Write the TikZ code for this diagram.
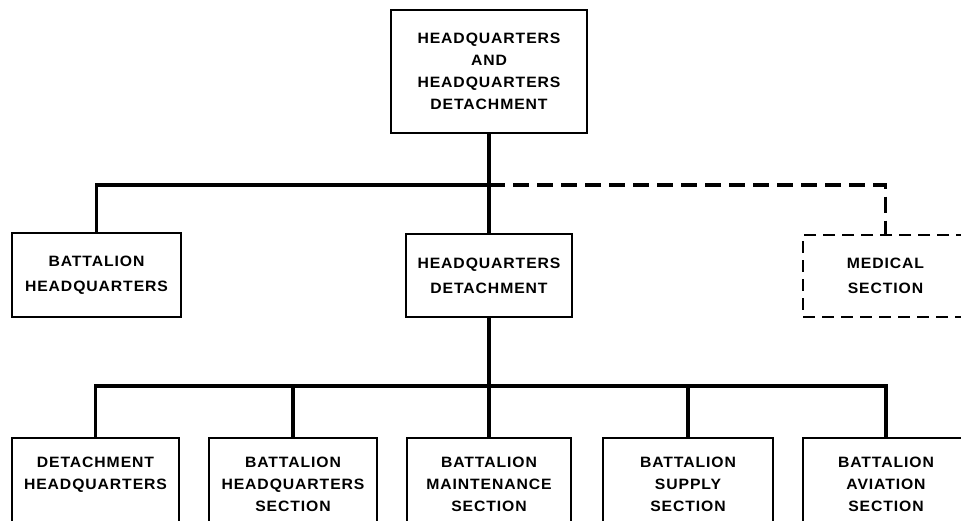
\documentclass[tikz,border=0pt]{standalone}
\usepackage{fontspec}
\newfontfamily\chartfont[FakeStretch=1.05,LetterSpace=6]{Liberation Sans}
\begin{document}
\begin{tikzpicture}[x=1pt,y=-1pt,
  box/.style={draw,line width=1.8pt,inner sep=0pt},
  dbox/.style={box,dash pattern=on 12pt off 7pt,line width=1.6pt},
  conn/.style={line width=3.4pt},
  dconn/.style={conn,dash pattern=on 16pt off 8pt},
  lbl/.style={font=\chartfont\bfseries\fontsize{15}{22}\selectfont,align=center,inner sep=0pt},
  lblm/.style={font=\chartfont\bfseries\fontsize{15}{25}\selectfont,align=center,inner sep=0pt}]
\useasboundingbox (0,0) rectangle (961,520);

% top
\node[box,lbl,minimum width=196pt,minimum height=123pt] (hq) at (489,71.5)
  {HEADQUARTERS\\AND\\HEADQUARTERS\\DETACHMENT};

% middle row
\node[box,lblm,minimum width=169pt,minimum height=84pt] (bhq) at (96.5,275)
  {BATTALION\\HEADQUARTERS};
\node[box,lblm,minimum width=166pt,minimum height=83pt] (hqd) at (489,275.5)
  {HEADQUARTERS\\DETACHMENT};
\node[dbox,lblm,minimum width=165pt,minimum height=82pt] (med) at (885.5,276)
  {MEDICAL\\SECTION};

\coordinate (j1) at (489,185);
\draw[conn] (hq.south) -- (hqd.north);
\draw[conn] (bhq.north) |- (j1);
\draw[dconn] (j1) -| (med.north);

% bottom row
\node[box,minimum width=167pt,minimum height=100pt,anchor=north] (b1) at (95.5,437) {};
\node[box,minimum width=168pt,minimum height=100pt,anchor=north] (b2) at (293,437) {};
\node[box,minimum width=164pt,minimum height=100pt,anchor=north] (b3) at (489,437) {};
\node[box,minimum width=170pt,minimum height=100pt,anchor=north] (b4) at (688,437) {};
\node[box,minimum width=166pt,minimum height=100pt,anchor=north] (b5) at (886,437) {};

\node[lbl,anchor=north] (t1) at ([yshift=-20pt]b1.north) {DETACHMENT\\HEADQUARTERS};
\node[lbl,anchor=north] (t2) at ([yshift=-20pt]b2.north) {BATTALION\\HEADQUARTERS\\SECTION};
\node[lbl,anchor=north] (t3) at ([yshift=-20pt]b3.north) {BATTALION\\MAINTENANCE\\SECTION};
\node[lbl,anchor=north] (t4) at ([yshift=-20pt]b4.north) {BATTALION\\SUPPLY\\SECTION};
\node[lbl,anchor=north] (t5) at ([yshift=-20pt]b5.north) {BATTALION\\AVIATION\\SECTION};

\coordinate (j2) at (489,386);
\draw[conn] (hqd.south) -- (b3.north);
\draw[conn] (b1.north) |- (j2) -| (b5.north);
\draw[conn] (b2.north) -- (b2.north |- j2);
\draw[conn] (b4.north) -- (b4.north |- j2);
\end{tikzpicture}
\end{document}
